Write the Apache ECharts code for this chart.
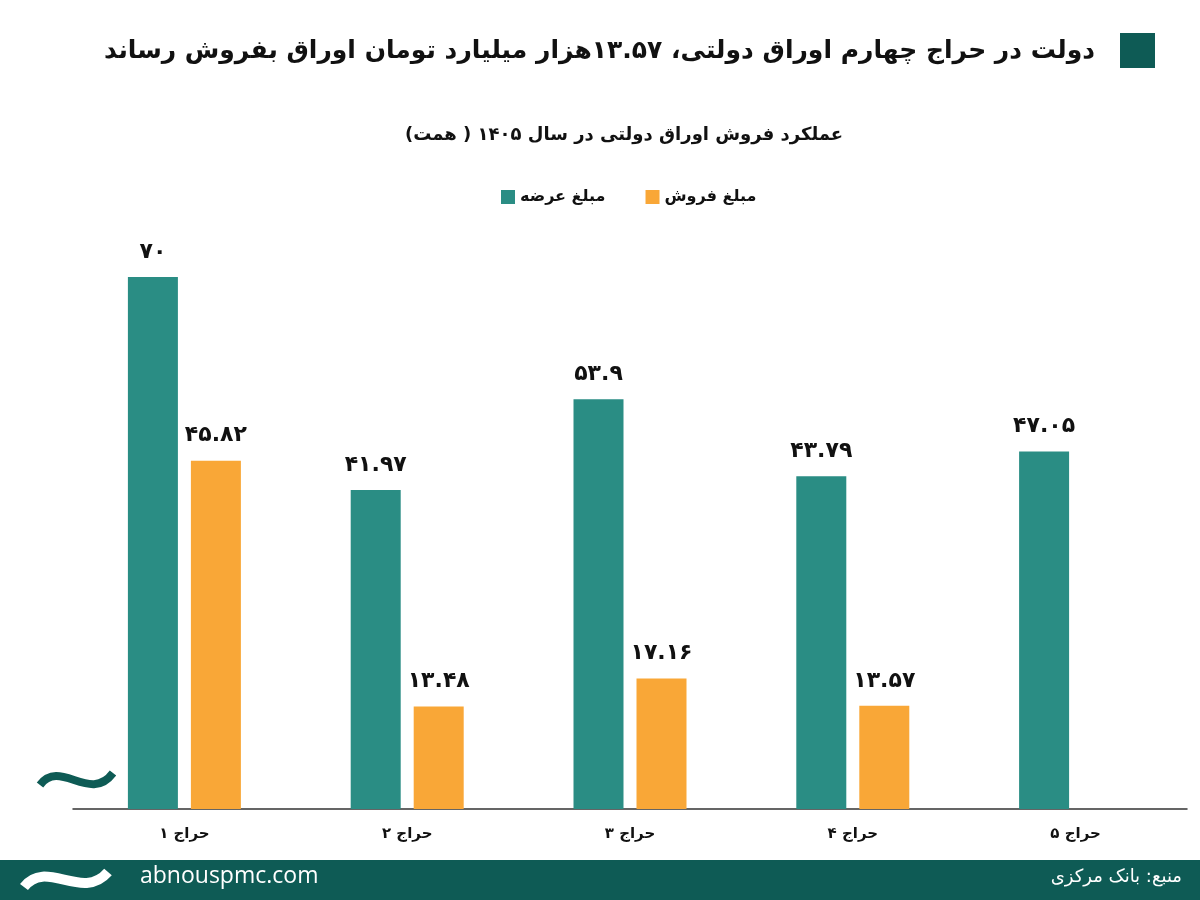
<!DOCTYPE html>
<html>
<head>
<meta charset="utf-8">
<title>حراج اوراق دولتی</title>
<script src="https://cdn.jsdelivr.net/npm/echarts@6/dist/echarts.min.js"></script>
<style>
  html, body { margin: 0; padding: 0; background: #fff; }
  #chart { width: 1200px; height: 900px; }
</style>
</head>
<body>
<div id="chart"></div>
<script>
// داده‌ها (همت)
var categories = ['حراج ۱', 'حراج ۲', 'حراج ۳', 'حراج ۴', 'حراج ۵'];
var offerValues = [70, 41.97, 53.9, 43.79, 47.05];   // مبلغ عرضه
var saleValues = [45.82, 13.48, 17.16, 13.57, null];  // مبلغ فروش
var seriesNames = ['مبلغ عرضه', 'مبلغ فروش'];

var teal = '#2a8d84';
var orange = '#f9a737';
var dark = '#0e5b55';
var font = 'DejaVu Sans';

// ارقام فارسی
function faDigits(v) {
  return String(v).replace(/[0-9]/g, function (d) { return '۰۱۲۳۴۵۶۷۸۹'[d]; });
}

var chart = echarts.init(document.getElementById('chart'));

var labelStyle = {
  show: true,
  position: 'top',
  distance: 14,
  fontFamily: font,
  fontWeight: 'bold',
  fontSize: 22,
  color: '#111',
  formatter: function (p) { return faDigits(p.value); }
};

var option = {
  backgroundColor: '#fff',
  animation: false,
  title: [{
    text: 'دولت در حراج چهارم اوراق دولتی، ۱۳.۵۷هزار میلیارد تومان اوراق بفروش رساند',
    right: 100,
    top: 34,
    textStyle: { fontFamily: font, fontWeight: 'bold', fontSize: 25, color: '#111' }
  }, {
    text: 'عملکرد فروش اوراق دولتی در سال ۱۴۰۵ ( همت)',
    left: 400,
    top: 121,
    textStyle: { fontFamily: font, fontWeight: 'bold', fontSize: 18, color: '#111' }
  }],
  legend: {
    data: seriesNames,
    left: 496,
    top: 184,
    itemWidth: 14,
    itemHeight: 14,
    itemGap: 40,
    icon: 'rect',
    textStyle: { fontFamily: font, fontWeight: 'bold', fontSize: 16, color: '#111' }
  },
  grid: { left: 73, right: 13, top: 277, bottom: 91 },
  xAxis: {
    type: 'category',
    data: categories,
    axisLine: { lineStyle: { color: '#333', width: 1.5 } },
    axisTick: { show: false },
    axisLabel: { margin: 18, fontFamily: font, fontWeight: 'bold', fontSize: 15, color: '#111' }
  },
  yAxis: {
    type: 'value',
    min: 0,
    max: 70,
    show: false,
    splitLine: { show: false }
  },
  series: [{
    name: seriesNames[0],
    type: 'bar',
    data: offerValues,
    barWidth: 50,
    barGap: '26%',
    itemStyle: { color: teal },
    label: labelStyle
  }, {
    name: seriesNames[1],
    type: 'bar',
    data: saleValues,
    barWidth: 50,
    barGap: '26%',
    itemStyle: { color: orange },
    label: labelStyle
  }],
  graphic: [
    // مربع کنار عنوان
    { type: 'rect', shape: { x: 1120, y: 33, width: 35, height: 35 }, style: { fill: dark } },
    // نشان شکست محور
    {
      type: 'bezierCurve',
      shape: { x1: 40, y1: 785, cpx1: 60, cpy1: 758, cpx2: 90, cpy2: 804, x2: 113, y2: 773 },
      style: { fill: 'none', stroke: dark, lineWidth: 8 }
    },
    // نوار پایین
    { type: 'rect', shape: { x: 0, y: 860, width: 1200, height: 40 }, style: { fill: dark } },
    {
      type: 'bezierCurve',
      shape: { x1: 24, y1: 887, cpx1: 46, cpy1: 858, cpx2: 82, cpy2: 902, x2: 108, y2: 872 },
      style: { fill: 'none', stroke: '#fff', lineWidth: 10 }
    },
    {
      type: 'text',
      left: 140,
      top: 865,
      style: { text: 'abnouspmc.com', fill: '#fff', fontFamily: 'Open Sans', fontSize: 23 }
    },
    {
      type: 'text',
      right: 18,
      top: 868,
      style: { text: 'منبع: بانک مرکزی', fill: '#fff', fontFamily: font, fontSize: 18 }
    }
  ]
};

chart.setOption(option);
</script>
</body>
</html>
